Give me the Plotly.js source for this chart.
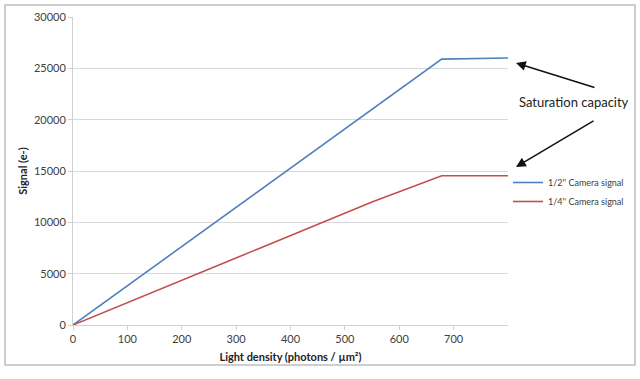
<!DOCTYPE html>
<html>
<head>
<meta charset="utf-8">
<script src="https://cdn.plot.ly/plotly-3.0.1.min.js"></script>
<style>html,body{margin:0;padding:0;background:#fff;}#chart{width:640px;height:379px;}</style>
</head>
<body>
<div id="chart"></div>
<script>
var halfX = [0, 678, 800];
var halfY = [0, 25900, 26000];
var quarterX = [0, 551, 678, 800];
var quarterY = [0, 12000, 14540, 14540];
var seriesNames = ["1/2'' Camera signal", "1/4'' Camera signal"];
var xTicks = [0, 100, 200, 300, 400, 500, 600, 700];
var yTicks = [0, 5000, 10000, 15000, 20000, 25000, 30000];

var font = "Lato, 'Open Sans', sans-serif";
var traces = [
  {x: halfX, y: halfY, mode: 'lines', name: seriesNames[0], line: {color: '#4f81bd', width: 1.6}},
  {x: quarterX, y: quarterY, mode: 'lines', name: seriesNames[1], line: {color: '#c0504d', width: 1.6}}
];
var layout = {
  width: 640, height: 379,
  margin: {l: 73, r: 132, t: 17, b: 54, autoexpand: false},
  paper_bgcolor: '#fff', plot_bgcolor: '#fff',
  font: {family: font, size: 11, color: '#404040'},
  showlegend: true,
  legend: {x: (508-73)/435, y: (325-168)/308, xanchor: 'left', yanchor: 'top', font: {size: 9, color: '#404040'}, itemwidth: 30, tracegroupgap: 0, bgcolor: 'rgba(0,0,0,0)'},
  xaxis: {
    range: [0, 800], tickvals: xTicks, ticktext: xTicks.map(String),
    showgrid: false, zeroline: false, showline: true, linecolor: '#d0d0d0', linewidth: 1,
    ticks: 'outside', ticklen: 4, tickcolor: '#d0d0d0',
    tickfont: {size: 11, color: '#404040'},
    title: {text: '<b>Light density (photons / µm²)</b>', font: {size: 11, color: '#222'}, standoff: 9}
  },
  yaxis: {
    range: [0, 30000], tickvals: yTicks, ticktext: yTicks.map(String),
    showgrid: true, gridcolor: '#d9d9d9', zeroline: false, showline: true, linecolor: '#d0d0d0', linewidth: 1,
    ticks: 'outside', ticklen: 4, tickcolor: '#d0d0d0',
    tickfont: {size: 11, color: '#404040'},
    title: {text: '<b>Signal (e-)</b>', font: {size: 11, color: '#222'}, standoff: 4}
  },
  shapes: [
    {type: 'rect', xref: 'paper', yref: 'paper', x0: (5-73)/435, x1: (635-73)/435, y0: (325-365)/308, y1: (325-5)/308,
     line: {color: '#bfbfbf', width: 1.5}, fillcolor: 'rgba(0,0,0,0)', layer: 'below'}
  ],
  annotations: [
    {xref: 'paper', yref: 'paper', x: (574-73)/435, y: (325-102)/308, text: 'Saturation capacity', showarrow: false,
     font: {size: 13, color: '#222'}, xanchor: 'center', yanchor: 'middle'},
    {xref: 'paper', yref: 'paper', x: (516-73)/435, y: (325-63)/308, text: '', showarrow: true,
     ax: 80, ay: 25, arrowhead: 2, arrowsize: 1.3, arrowwidth: 1.5, arrowcolor: '#111'},
    {xref: 'paper', yref: 'paper', x: (516-73)/435, y: (325-167)/308, text: '', showarrow: true,
     ax: 79, ay: -47, arrowhead: 2, arrowsize: 1.3, arrowwidth: 1.5, arrowcolor: '#111'}
  ]
};
Plotly.newPlot('chart', traces, layout, {displayModeBar: false, staticPlot: true});
</script>
</body>
</html>
